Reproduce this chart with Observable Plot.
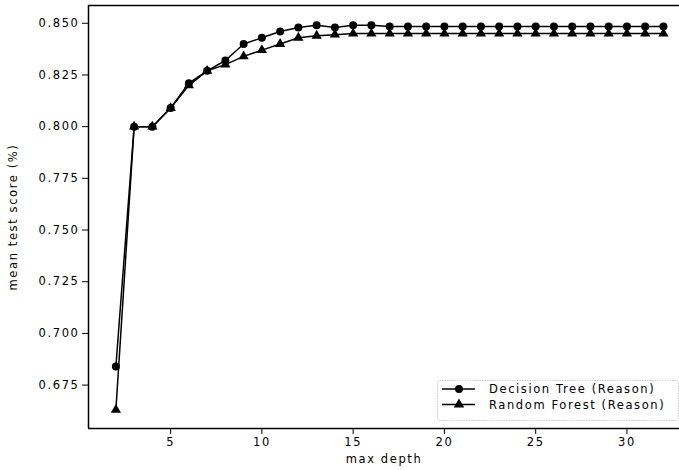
<!DOCTYPE html>
<html>
<head>
<meta charset="utf-8">
<script src="https://cdn.jsdelivr.net/npm/d3@7"></script>
<script src="https://cdn.jsdelivr.net/npm/@observablehq/plot@0.6"></script>
<style>
  html, body { margin: 0; padding: 0; background: #fff; }
  svg text { font-family: "DejaVu Sans", sans-serif; }
</style>
</head>
<body>
<div id="chart"></div>
<script>
const depths = [2,3,4,5,6,7,8,9,10,11,12,13,14,15,16,17,18,19,20,21,22,23,24,25,26,27,28,29,30,31,32];
const dtScores = [0.684,0.800,0.800,0.809,0.821,0.827,0.832,0.840,0.843,0.846,0.848,0.849,0.848,0.849,0.849,0.8485,0.8485,0.8485,0.8485,0.8485,0.8485,0.8485,0.8485,0.8485,0.8485,0.8485,0.8485,0.8485,0.8485,0.8485,0.8485];
const rfScores = [0.663,0.800,0.800,0.809,0.820,0.827,0.830,0.834,0.837,0.840,0.843,0.844,0.8445,0.845,0.845,0.845,0.845,0.845,0.845,0.845,0.845,0.845,0.845,0.845,0.845,0.845,0.845,0.845,0.845,0.845,0.845];
const seriesNames = ["Decision Tree (Reason)", "Random Forest (Reason)"];
const xTicks = [5,10,15,20,25,30];
const yTicks = [0.675,0.700,0.725,0.750,0.775,0.800,0.825,0.850];

const dt = depths.map((d,i) => ({depth: d, score: dtScores[i]}));
const rf = depths.map((d,i) => ({depth: d, score: rfScores[i]}));

const xDomain = [0.5, 32.88];
const yDomain = [0.654, 0.8586];

const chart = Plot.plot({
  width: 679,
  height: 470,
  marginLeft: 88,
  marginTop: 5,
  marginBottom: 42,
  marginRight: 0,
  style: {fontFamily: "DejaVu Sans", fontSize: "11.5px", color: "#000", background: "#fff"},
  x: {domain: xDomain},
  y: {domain: yDomain},
  marks: [
    Plot.axisX({ticks: xTicks, tickSize: 6, tickPadding: 3, label: "max depth", labelAnchor: "center", labelArrow: "none", labelOffset: 34, fontSize: 11.5, strokeWidth: 1}),
    Plot.axisY({ticks: yTicks, tickFormat: d3.format(".3f"), tickSize: 6, tickPadding: 3, label: "mean test score (%)", labelAnchor: "center", labelArrow: "none", labelOffset: 80, fontSize: 11.5, strokeWidth: 1}),
    Plot.ruleX([xDomain[0]], {stroke: "#000", strokeWidth: 1.5}),
    Plot.ruleY([yDomain[0]], {stroke: "#000", strokeWidth: 1.5}),
    Plot.ruleY([yDomain[1]], {stroke: "#000", strokeWidth: 1.5}),
    Plot.line(dt, {x: "depth", y: "score", stroke: "#000", strokeWidth: 1.5}),
    Plot.line(rf, {x: "depth", y: "score", stroke: "#000", strokeWidth: 1.5}),
    Plot.dot(dt, {x: "depth", y: "score", fill: "#000", r: 4, symbol: "circle"}),
    Plot.dot(rf, {x: "depth", y: "score", fill: "#000", r: 3.8, symbol: "triangle"})
  ]
});

const svg = d3.select(chart);
svg.selectAll("text").attr("letter-spacing", "1.6px");

// legend
const lg = svg.append("g").attr("font-family", "DejaVu Sans").attr("font-size", 11.5).attr("letter-spacing", "1.6px").attr("text-anchor", "start");
lg.append("rect").attr("x", 437.5).attr("y", 380.5).attr("width", 241).attr("height", 40).attr("rx", 2)
  .attr("fill", "#fff").attr("stroke", "#ccc").attr("stroke-width", 1).attr("stroke-dasharray", "1.5,1");
const sym = [d3.symbolCircle, d3.symbolTriangle];
const sizes = [50, 48];
seriesNames.forEach((name, i) => {
  const y = 389 + i * 15.5;
  lg.append("line").attr("x1", 442).attr("x2", 475).attr("y1", y).attr("y2", y).attr("stroke", "#000").attr("stroke-width", 1.5);
  lg.append("path").attr("d", d3.symbol(sym[i], sizes[i])()).attr("transform", `translate(459,${y})`).attr("fill", "#000");
  lg.append("text").attr("x", 489).attr("y", y).attr("dy", "0.35em").attr("text-anchor", "start").text(name);
});

document.getElementById("chart").appendChild(chart);
</script>
</body>
</html>
